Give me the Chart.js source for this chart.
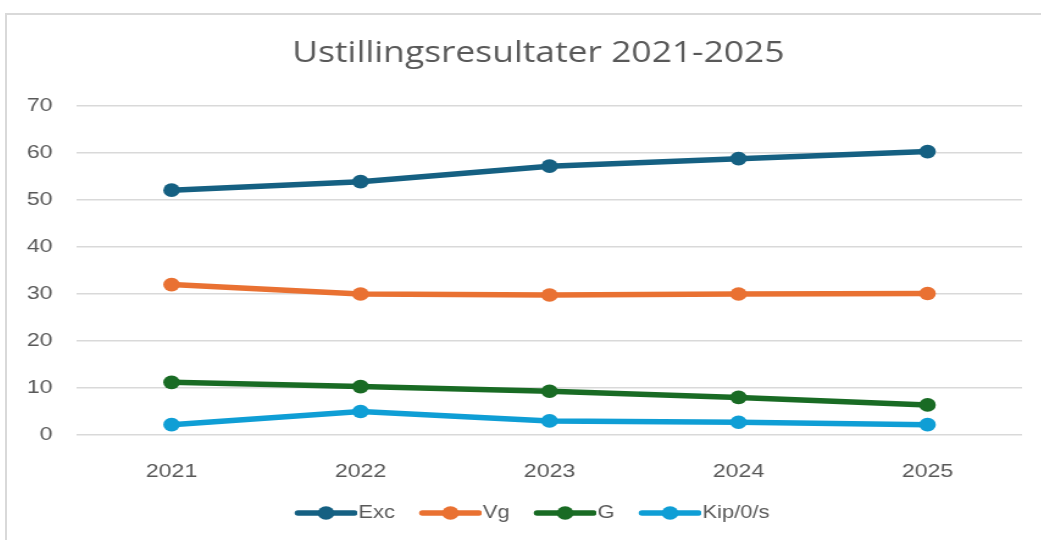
<!DOCTYPE html>
<html><head><meta charset="utf-8">
<script src="https://cdn.jsdelivr.net/npm/chart.js@4.4.1/dist/chart.umd.min.js"></script>
<style>
html,body{margin:0;padding:0;background:#fff;overflow:hidden;width:1041px;height:540px;}
#frame{position:absolute;left:5px;top:13px;width:1100px;height:600px;border:2px solid #d9d9d9;box-sizing:border-box;}
#c{position:absolute;left:7px;top:15px;transform:scaleX(1.22);transform-origin:0 0;}
</style></head><body>
<div id="frame"></div>
<canvas id="c" width="871" height="525"></canvas>
<script>
const categories = ['2021', '2022', '2023', '2024', '2025'];
const excValues = [52.1, 53.9, 57.2, 58.8, 60.3];
const vgValues  = [32.0, 30.0, 29.8, 30.0, 30.1];
const gValues   = [11.2, 10.3, 9.3, 8.0, 6.4];
const kipValues = [2.2, 5.0, 3.0, 2.7, 2.2];
const seriesNames = ['Exc', 'Vg', 'G', 'Kip/0/s'];
const seriesColors = ['#156082', '#E97132', '#196B24', '#0F9ED5'];
const yTicks = [0, 10, 20, 30, 40, 50, 60, 70];
const titleText = 'Ustillingsresultater 2021-2025';

const textColor = '#595959';
Chart.defaults.font.family = "'Liberation Sans', Arial, sans-serif";

function makeLegendIcon(color) {
  const W = 59, H = 16;
  const c = document.createElement('canvas');
  c.width = W; c.height = H;
  const ctx = c.getContext('2d');
  ctx.strokeStyle = color;
  ctx.lineWidth = 5.5;
  ctx.lineCap = 'round';
  ctx.beginPath();
  ctx.moveTo(8 + 2.5, H / 2);
  ctx.lineTo(W - 2.5, H / 2);
  ctx.stroke();
  ctx.fillStyle = color;
  ctx.beginPath();
  ctx.arc(8 + 25.5, H / 2, 6.8, 0, Math.PI * 2);
  ctx.fill();
  return c;
}
const icons = seriesColors.map(makeLegendIcon);

const allValues = [excValues, vgValues, gValues, kipValues];
const datasets = allValues.map((vals, i) => ({
  label: seriesNames[i],
  data: vals,
  borderColor: seriesColors[i],
  backgroundColor: seriesColors[i],
  pointBackgroundColor: seriesColors[i],
  pointBorderWidth: 0,
  pointRadius: 6.8,
  borderWidth: 5.5,
  tension: 0,
  clip: false,
  yAxisID: 'y'
}));

const shiftLegend = {
  id: 'shiftLegend',
  afterLayout(chart) {
    if (chart.legend) { chart.legend.left -= 5; chart.legend.right -= 5; }
  }
};

new Chart(document.getElementById('c'), {
  type: 'line',
  data: { labels: categories, datasets },
  plugins: [shiftLegend],
  options: {
    responsive: false,
    animation: false,
    devicePixelRatio: 1,
    layout: { padding: { left: 0, right: 0, top: 0, bottom: 8 } },
    plugins: {
      tooltip: { enabled: false },
      title: {
        display: true,
        text: titleText,
        color: textColor,
        font: { family: "'Open Sans', sans-serif", size: 29, weight: 'normal' },
        padding: { top: 21.5, bottom: 34.7 }
      },
      legend: {
        position: 'bottom',
        labels: {
          usePointStyle: true,
          pointStyleWidth: 43,
          color: textColor,
          font: { size: 18 },
          padding: 20,
          generateLabels: (chart) => chart.data.datasets.map((ds, i) => ({
            text: ds.label,
            pointStyle: icons[i],
            fillStyle: 'rgba(0,0,0,0)',
            strokeStyle: 'rgba(0,0,0,0)',
            lineWidth: 0,
            hidden: false,
            datasetIndex: i,
            fontColor: textColor
          }))
        }
      }
    },
    scales: {
      x: {
        type: 'category',
        offset: true,
        grid: { display: false },
        border: { display: false },
        ticks: { color: textColor, font: { size: 19 }, padding: 17 },
        afterFit: (s) => { s.height = 49; }
      },
      y: {
        type: 'linear',
        position: 'left',
        min: 0,
        max: 70,
        afterBuildTicks: (s) => { s.ticks = yTicks.map(v => ({ value: v })); },
        grid: { color: '#d9d9d9', lineWidth: 1.5, drawTicks: false },
        border: { display: false },
        ticks: { color: textColor, font: { size: 19 }, padding: 20 },
        afterFit: (s) => { s.width = 57.4; }
      },
      yR: {
        type: 'linear',
        position: 'right',
        display: true,
        grid: { display: false, drawTicks: false },
        border: { display: false },
        ticks: { display: false },
        afterFit: (s) => { s.width = 39; }
      }
    }
  }
});
</script>
</body></html>
